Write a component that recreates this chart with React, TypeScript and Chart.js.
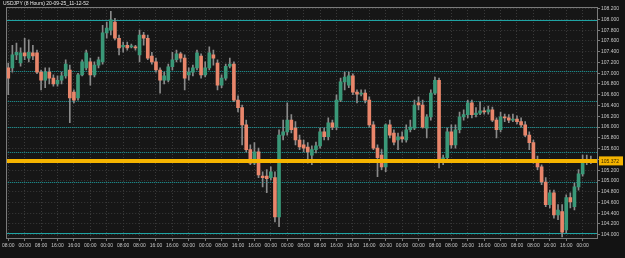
import React, { useEffect, useRef } from "react";
import { Chart, registerables } from "chart.js";

Chart.register(...registerables);

const title = "USDJPY (8 Hours) 20-09-25_11-12-52";

const tickLabels = [
  "08:00", "00:00", "08:00", "16:00", "16:00", "00:00", "00:00", "08:00", "08:00", "16:00", "16:00", "00:00",
  "00:00", "08:00", "16:00", "16:00", "00:00", "00:00", "08:00", "08:00", "16:00", "16:00", "16:00", "00:00",
  "00:00", "00:00", "08:00", "08:00", "16:00", "16:00", "00:00", "08:00", "08:00", "16:00", "16:00", "00:00",
];

const opens = [
  107.10, 107.10, 107.34, 107.19, 107.38, 107.28, 107.38, 107.38, 107.02, 106.87,
  107.02, 106.91, 106.80, 106.87, 106.95, 107.06, 106.65, 106.54, 106.97, 107.10,
  107.21, 106.97, 107.15, 107.21, 107.75, 107.80, 107.95, 107.65, 107.49, 107.52,
  107.49, 107.49, 107.34, 107.71, 107.65, 107.32, 107.21, 107.06, 106.87, 106.87,
  107.12, 107.25, 107.36, 107.28, 106.97, 107.02, 107.10, 107.32, 106.97, 107.10,
  107.34, 107.19, 106.78, 106.91, 107.13, 107.17, 106.50, 106.36, 106.04, 105.58,
  105.33, 105.54, 105.09, 105.09, 105.06, 105.06, 104.33, 105.85, 105.91, 106.13,
  105.98, 105.76, 105.67, 105.63, 105.48, 105.58, 105.65, 105.91, 105.82, 106.08,
  106.00, 106.50, 106.84, 106.78, 106.95, 106.65, 106.61, 106.63, 106.50, 106.04,
  105.61, 105.48, 105.26, 106.04, 105.89, 105.76, 105.82, 105.76, 105.95, 105.98,
  106.45, 106.41, 105.98, 106.19, 106.63, 106.87, 105.39, 105.43, 105.91, 105.67,
  105.95, 106.19, 106.23, 106.45, 106.23, 106.26, 106.30, 106.28, 106.32, 106.13,
  105.95, 106.19, 106.17, 106.13, 106.15, 106.10, 106.04, 105.85, 105.71, 105.39,
  105.26, 104.98, 104.56, 104.78, 104.37, 104.43, 104.09, 104.69, 104.52, 104.89,
  105.13, 105.35, 105.39,
];

const closes = [
  106.91, 107.34, 107.39, 107.38, 107.32, 107.39, 107.32, 107.02, 106.87, 107.02,
  106.91, 106.80, 106.87, 106.95, 107.17, 106.54, 106.50, 106.97, 107.21, 107.38,
  106.97, 107.15, 107.25, 107.75, 107.84, 107.99, 107.65, 107.47, 107.52, 107.47,
  107.51, 107.47, 107.71, 107.65, 107.28, 107.21, 107.06, 106.87, 106.95, 107.12,
  107.25, 107.36, 107.28, 106.91, 107.02, 107.10, 107.38, 106.97, 107.10, 107.38,
  107.28, 106.78, 106.91, 107.13, 107.17, 106.50, 106.36, 106.04, 105.58, 105.33,
  105.54, 105.11, 105.06, 105.04, 105.17, 104.33, 105.85, 105.91, 106.13, 105.95,
  105.76, 105.63, 105.61, 105.54, 105.58, 105.65, 105.91, 105.82, 106.08, 106.00,
  106.50, 106.84, 106.93, 106.95, 106.65, 106.61, 106.63, 106.50, 106.04, 105.61,
  105.43, 105.26, 106.04, 105.85, 105.72, 105.82, 105.78, 105.95, 106.00, 106.41,
  106.41, 106.00, 106.19, 106.63, 106.87, 105.39, 105.43, 105.91, 105.67, 105.95,
  106.19, 106.23, 106.45, 106.23, 106.26, 106.30, 106.28, 106.32, 106.13, 105.95,
  106.19, 106.17, 106.13, 106.15, 106.10, 106.04, 105.85, 105.71, 105.39, 105.26,
  104.98, 104.56, 104.78, 104.37, 104.46, 104.05, 104.69, 104.61, 104.89, 105.13,
  105.35, 105.39, 105.37,
];

const highs = [
  107.19, 107.52, 107.56, 107.47, 107.65, 107.62, 107.52, 107.43, 107.06, 107.10,
  107.10, 106.97, 106.95, 107.02, 107.25, 107.15, 106.69, 107.00, 107.25, 107.43,
  107.28, 107.21, 107.30, 107.89, 107.95, 108.15, 108.02, 107.71, 107.58, 107.58,
  107.54, 107.52, 107.80, 107.76, 107.71, 107.39, 107.28, 107.10, 107.02, 107.17,
  107.39, 107.43, 107.39, 107.34, 107.10, 107.15, 107.43, 107.36, 107.21, 107.49,
  107.43, 107.25, 106.97, 107.17, 107.28, 107.21, 106.58, 106.41, 106.13, 105.67,
  105.71, 105.61, 105.17, 105.21, 105.26, 105.17, 105.95, 106.13, 106.45, 106.23,
  106.10, 105.85, 105.76, 105.71, 105.65, 105.72, 105.98, 105.98, 106.17, 106.13,
  106.60, 106.91, 107.02, 107.02, 106.99, 106.69, 106.69, 106.69, 106.56, 106.10,
  105.67, 105.58, 106.06, 106.13, 105.95, 105.89, 105.91, 106.04, 106.13, 106.50,
  106.56, 106.50, 106.23, 106.69, 106.93, 106.91, 105.48, 105.98, 106.04, 106.04,
  106.28, 106.32, 106.50, 106.50, 106.36, 106.47, 106.36, 106.39, 106.37, 106.17,
  106.28, 106.24, 106.23, 106.24, 106.21, 106.17, 106.10, 105.91, 105.76, 105.46,
  105.30, 105.06, 104.83, 104.83, 104.56, 104.56, 104.74, 104.78, 104.96, 105.21,
  105.48, 105.48, 105.46,
];

const lows = [
  106.60, 107.02, 107.25, 107.13, 107.25, 107.21, 107.25, 106.99, 106.69, 106.73,
  106.80, 106.76, 106.76, 106.80, 106.91, 106.08, 106.45, 106.50, 106.95, 107.06,
  106.78, 106.93, 107.10, 107.17, 107.65, 107.71, 107.62, 107.34, 107.39, 107.43,
  107.47, 107.43, 107.21, 107.52, 107.25, 107.17, 107.02, 106.63, 106.80, 106.84,
  107.06, 107.21, 107.21, 106.69, 106.87, 106.95, 107.06, 106.91, 106.93, 107.06,
  107.15, 106.69, 106.73, 106.87, 107.10, 106.47, 106.28, 105.67, 105.54, 105.30,
  105.30, 105.06, 104.89, 104.78, 105.02, 104.24, 104.15, 105.76, 105.85, 105.89,
  105.67, 105.58, 105.54, 105.33, 105.30, 105.52, 105.61, 105.76, 105.76, 105.95,
  105.95, 106.47, 106.69, 106.73, 106.60, 106.45, 106.58, 106.45, 106.00, 105.58,
  105.08, 105.21, 105.17, 105.80, 105.67, 105.58, 105.72, 105.72, 105.91, 105.95,
  106.32, 105.98, 105.80, 106.13, 106.60, 105.24, 105.30, 105.39, 105.61, 105.61,
  105.89, 106.13, 106.17, 106.17, 106.19, 106.23, 106.24, 106.24, 106.10, 105.80,
  105.91, 106.10, 106.08, 106.10, 106.06, 106.00, 105.82, 105.58, 105.33, 105.21,
  104.93, 104.52, 104.50, 104.31, 104.28, 103.96, 104.04, 104.50, 104.46, 104.83,
  105.09, 105.30, 105.32,
];

const solidLevels = [107.98, 104.04];
const dottedLevels = [107.05, 106.48, 106.01, 105.54, 104.98];
const currentPrice = 105.372;

const slotCount = 144;
const labelEvery = 4;

const UP = "#3a9878";
const DOWN = "#e9866b";
const WICK = "#8a8a8a";
const TEAL = "#1fa3a3";
const YELLOW = "#f5b400";
const GRID = "#3a3a3a";
const FRAME = "#7a7a7a";
const FONT = "'Liberation Sans', Arial, sans-serif";

export default function App() {
  const ref = useRef<HTMLCanvasElement | null>(null);

  useEffect(() => {
    const canvas = ref.current;
    if (!canvas) return;
    const categories = Array.from({ length: slotCount }, (_, i) => String(i));
    const bodies = opens.map((o, i) => [o, closes[i]]);
    const wicks = lows.map((l, i) => [l, highs[i]]);
    const bodyColors = opens.map((o, i) => (closes[i] >= o ? UP : DOWN));

    const decor = {
      id: "decor",
      beforeDraw(chart: any) {
        const { ctx, width, height, chartArea } = chart;
        ctx.save();
        ctx.fillStyle = "#131313";
        ctx.fillRect(0, 0, width, height);
        ctx.fillStyle = "#161616";
        ctx.fillRect(chartArea.left, chartArea.top, chartArea.right - chartArea.left, chartArea.bottom - chartArea.top);
        ctx.restore();
      },
      beforeDatasetsDraw(chart: any) {
        const { ctx, chartArea } = chart;
        const y = chart.scales.y;
        ctx.save();
        ctx.strokeStyle = TEAL;
        ctx.lineWidth = 1;
        ctx.setLineDash([]);
        solidLevels.forEach((v) => {
          const py = Math.round(y.getPixelForValue(v)) + 0.5;
          ctx.beginPath();
          ctx.moveTo(chartArea.left, py);
          ctx.lineTo(chartArea.right, py);
          ctx.stroke();
        });
        ctx.setLineDash([1, 1]);
        dottedLevels.forEach((v) => {
          const py = Math.round(y.getPixelForValue(v)) + 0.5;
          ctx.beginPath();
          ctx.moveTo(chartArea.left, py);
          ctx.lineTo(chartArea.right, py);
          ctx.stroke();
        });
        ctx.restore();
      },
      afterDraw(chart: any) {
        const { ctx, chartArea, width } = chart;
        const y = chart.scales.y;
        const py = y.getPixelForValue(currentPrice);
        ctx.save();
        ctx.strokeStyle = YELLOW;
        ctx.lineWidth = 4;
        ctx.beginPath();
        ctx.moveTo(chartArea.left, py);
        ctx.lineTo(chartArea.right, py);
        ctx.stroke();
        ctx.lineWidth = 1;
        ctx.strokeStyle = FRAME;
        ctx.strokeRect(
          Math.round(chartArea.left) + 0.5,
          Math.round(chartArea.top) + 0.5,
          Math.round(chartArea.right - chartArea.left),
          Math.round(chartArea.bottom - chartArea.top)
        );
        ctx.fillStyle = YELLOW;
        ctx.fillRect(chartArea.right + 2, py - 4.5, width - chartArea.right - 4, 9);
        ctx.fillStyle = "#3a2a00";
        ctx.font = `5px ${FONT}`;
        ctx.textBaseline = "middle";
        ctx.textAlign = "left";
        ctx.fillText(currentPrice.toFixed(3), chartArea.right + 4, py + 0.5);
        ctx.fillStyle = "#e6e6e6";
        ctx.font = `5px ${FONT}`;
        ctx.fillText(title, 3, 3.5);
        ctx.restore();
      },
    };

    const chart = new Chart(canvas, {
      type: "bar",
      data: {
        labels: categories,
        datasets: [
          {
            label: "body",
            data: bodies as any,
            backgroundColor: bodyColors,
            borderWidth: 0,
            barThickness: 3,
            grouped: false,
            order: 0,
          } as any,
          {
            label: "wick",
            data: wicks as any,
            backgroundColor: WICK,
            borderWidth: 0,
            barThickness: 1,
            grouped: false,
            order: 1,
          } as any,
        ],
      },
      options: {
        responsive: false,
        animation: false,
        devicePixelRatio: 1,
        layout: { padding: { top: 7, left: 3, right: 0, bottom: 0 } },
        plugins: {
          legend: { display: false },
          tooltip: { enabled: false },
          title: { display: false },
        },
        scales: {
          x: {
            type: "category",
            offset: true,
            grid: {
              offset: false,
              color: (c: any) => (c.index % labelEvery === 0 ? GRID : "rgba(0,0,0,0)"),
              tickColor: (c: any) => (c.index % labelEvery === 0 ? FRAME : "rgba(0,0,0,0)"),
              tickLength: 3,
              tickBorderDash: [],
            } as any,
            border: { display: false, dash: [1, 2] },
            ticks: {
              autoSkip: false,
              maxRotation: 0,
              minRotation: 0,
              padding: 2,
              color: "#c8c8c8",
              font: { family: FONT, size: 5 },
              callback: (_v: any, i: number) =>
                i % labelEvery === 0 ? tickLabels[i / labelEvery] ?? "" : "",
            },
            afterFit: (s: any) => {
              s.height = 20;
            },
          },
          y: {
            type: "linear",
            position: "right",
            min: 103.94,
            max: 108.23,
            beginAtZero: false,
            grid: {
              color: GRID,
              tickColor: FRAME,
              tickLength: 3,
              tickBorderDash: [],
            } as any,
            border: { display: false, dash: [1, 2] },
            ticks: {
              stepSize: 0.2,
              includeBounds: false,
              maxTicksLimit: 100,
              padding: 1,
              color: "#c8c8c8",
              font: { family: FONT, size: 5 },
              callback: (v: any) => Number(v).toFixed(3),
            },
            afterFit: (s: any) => {
              s.width = 28;
            },
          },
        },
      },
      plugins: [decor],
    });
    return () => chart.destroy();
  }, []);

  return (
    <div
      style={{
        position: "fixed",
        left: 0,
        top: 0,
        width: 625,
        height: 258,
        background: "#131313",
      }}
    >
      <canvas ref={ref} width={625} height={258} style={{ width: 625, height: 258, display: "block" }} />
    </div>
  );
}
